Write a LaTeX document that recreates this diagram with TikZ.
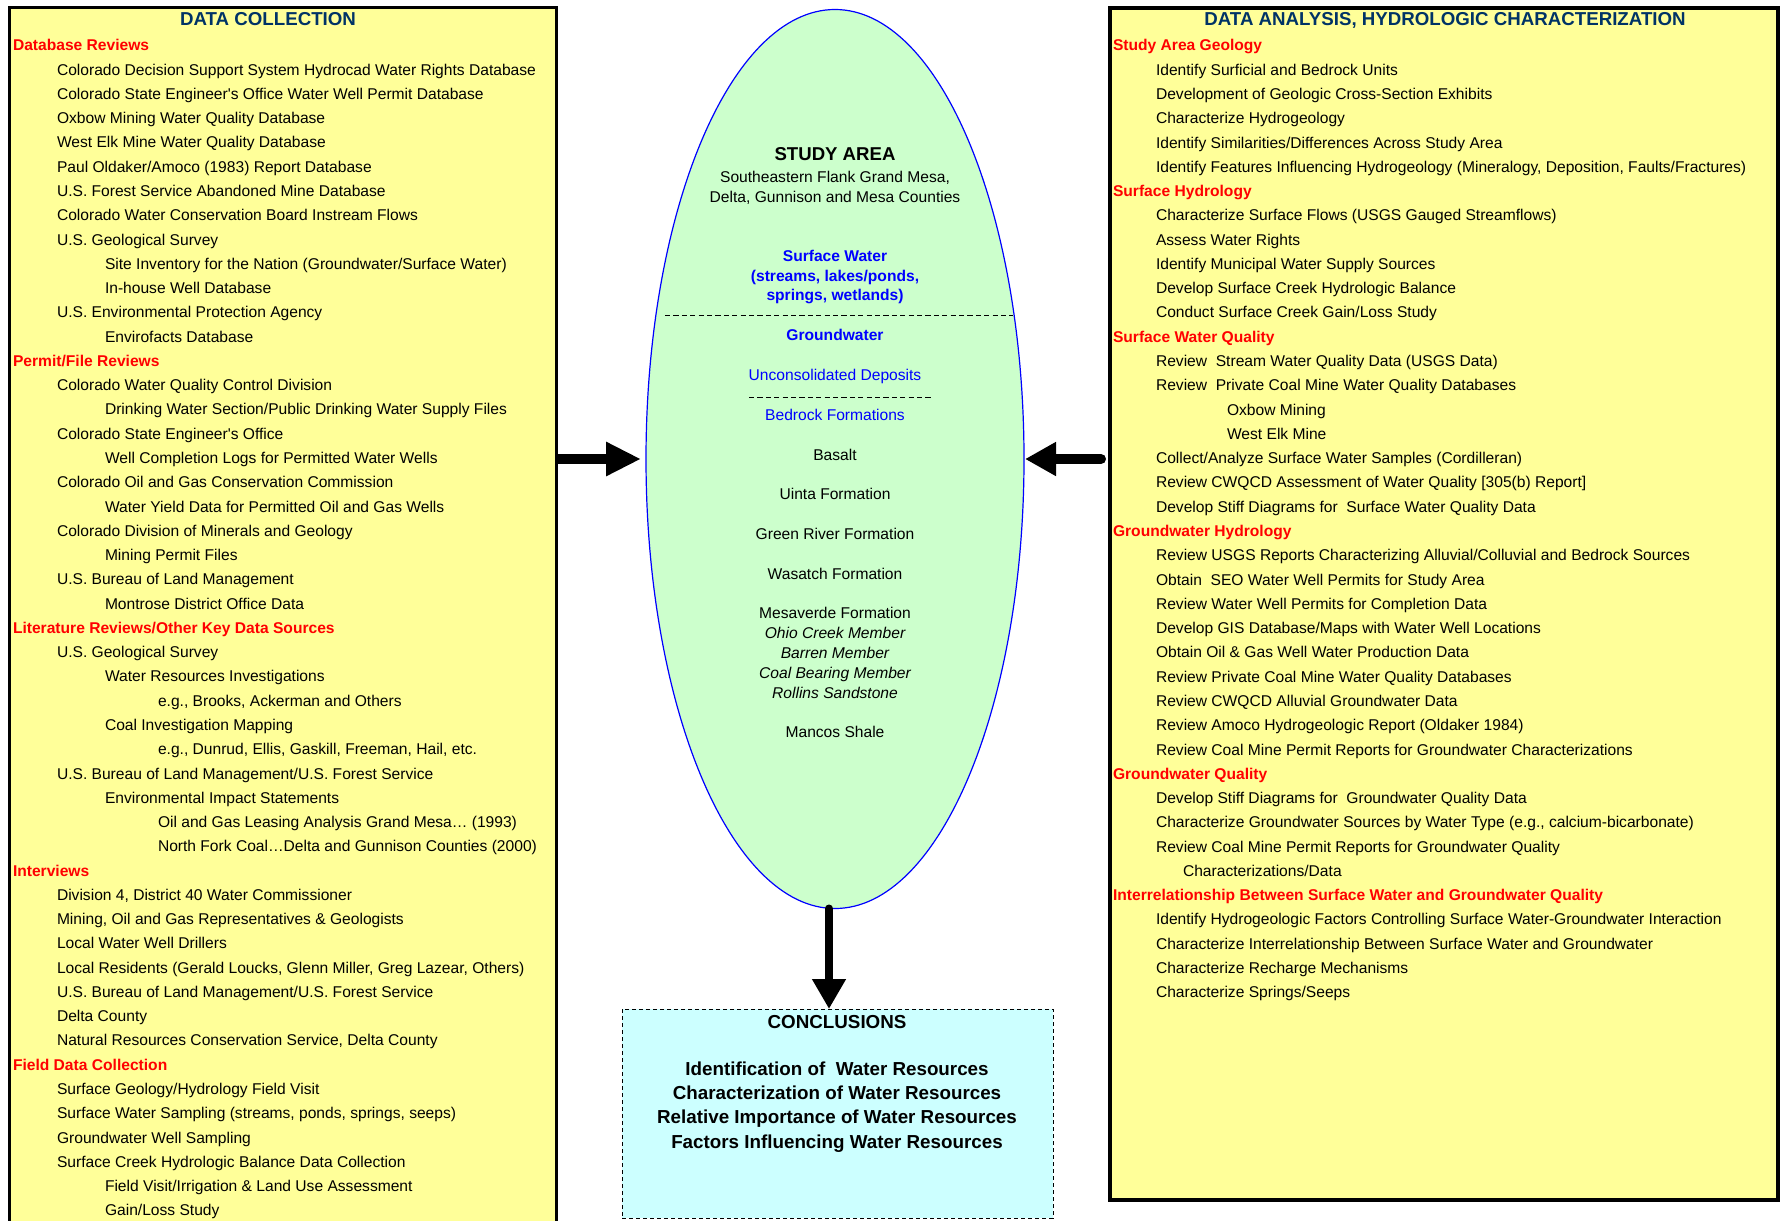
\documentclass[tikz,border=0pt]{standalone}
\usepackage{fontspec}
\setmainfont{Liberation Sans}
\usetikzlibrary{shapes.geometric,arrows.meta}
\definecolor{boxyellow}{HTML}{FFFF99}
\definecolor{studygreen}{HTML}{CCFFCC}
\definecolor{conccyan}{HTML}{CCFFFF}
\definecolor{titlenavy}{RGB}{0,51,102}
\definecolor{headred}{RGB}{255,0,0}
\definecolor{textblue}{RGB}{0,0,255}
\newcommand\hdfmt{\color{headred}\bfseries}
\newcommand\bluefmt{\color{textblue}}
\newcommand\bigfmt{\bfseries\fontsize{9.3pt}{11pt}\selectfont}
\newcommand\apos{\textquotesingle}
\frenchspacing
\begin{document}
\begin{tikzpicture}[x=0.5pt,y=-0.5pt,
  bodytxt/.style={anchor=base west, inner sep=0pt, outer sep=0pt, font=\fontsize{7.8pt}{9pt}\selectfont},
  ctxt/.style={anchor=base, inner sep=0pt, outer sep=0pt, font=\fontsize{7.8pt}{9pt}\selectfont},
  titletxt/.style={anchor=base, inner sep=0pt, outer sep=0pt, text=titlenavy, font=\bfseries\fontsize{9.35pt}{11pt}\selectfont},
  listbox/.style={rectangle, draw=black, fill=boxyellow, anchor=north west, inner sep=0pt, outer sep=0pt},
  innerdash/.style={draw=black, line width=0.5pt, dash pattern=on 2.6pt off 1.6pt},
  fatarrow/.style={draw=black, line width=5pt}
]
\useasboundingbox (0,0) rectangle (1780,1220);
\clip (0,0) rectangle (1780,1220);
\fill[white] (0,0) rectangle (1780,1220);

% boxes
\node[listbox, line width=1.5pt, minimum width=273.5pt, minimum height=615pt] (LB) at (9,8) {};
\node[listbox, line width=2pt, minimum width=334pt, minimum height=596pt] (RB) at (1110,8) {};
\node[ellipse, draw=textblue, line width=0.6pt, fill=studygreen, minimum width=189pt, minimum height=449.5pt, inner sep=0pt, outer sep=0pt] (E) at (835,459) {};
\node[rectangle, draw=black, line width=0.5pt, dash pattern=on 2pt off 1.5pt, fill=conccyan, anchor=north west, minimum width=215.5pt, minimum height=104.5pt, inner sep=0pt, outer sep=0pt] (CB) at (622,1009) {};

% titles
\node[titletxt] (LT) at (268,26) {DATA COLLECTION};
\node[titletxt] (RT) at (1445,26) {DATA ANALYSIS, HYDROLOGIC CHARACTERIZATION};

% left list
\foreach \x/\t [count=\i from 0] in {
 13/{\hdfmt Database Reviews},
 57/{Colorado Decision Support System Hydrocad Water Rights Database},
 57/{Colorado State Engineer\apos s Office Water Well Permit Database},
 57/{Oxbow Mining Water Quality Database},
 57/{West Elk Mine Water Quality Database},
 57/{Paul Oldaker/Amoco (1983) Report Database},
 57/{U.S. Forest Service Abandoned Mine Database},
 57/{Colorado Water Conservation Board Instream Flows},
 57/{U.S. Geological Survey},
 105/{Site Inventory for the Nation (Groundwater/Surface Water)},
 105/{In-house Well Database},
 57/{U.S. Environmental Protection Agency},
 105/{Envirofacts Database},
 13/{\hdfmt Permit/File Reviews},
 57/{Colorado Water Quality Control Division},
 105/{Drinking Water Section/Public Drinking Water Supply Files},
 57/{Colorado State Engineer\apos s Office},
 105/{Well Completion Logs for Permitted Water Wells},
 57/{Colorado Oil and Gas Conservation Commission},
 105/{Water Yield Data for Permitted Oil and Gas Wells},
 57/{Colorado Division of Minerals and Geology},
 105/{Mining Permit Files},
 57/{U.S. Bureau of Land Management},
 105/{Montrose District Office Data},
 13/{\hdfmt Literature Reviews/Other Key Data Sources},
 57/{U.S. Geological Survey},
 105/{Water Resources Investigations},
 158/{e.g., Brooks, Ackerman and Others},
 105/{Coal Investigation Mapping},
 158/{e.g., Dunrud, Ellis, Gaskill, Freeman, Hail, etc.},
 57/{U.S. Bureau of Land Management/U.S. Forest Service},
 105/{Environmental Impact Statements},
 158/{Oil and Gas Leasing Analysis Grand Mesa… (1993)},
 158/{North Fork Coal…Delta and Gunnison Counties (2000)},
 13/{\hdfmt Interviews},
 57/{Division 4, District 40 Water Commissioner},
 57/{Mining, Oil and Gas Representatives \& Geologists},
 57/{Local Water Well Drillers},
 57/{Local Residents (Gerald Loucks, Glenn Miller, Greg Lazear, Others)},
 57/{U.S. Bureau of Land Management/U.S. Forest Service},
 57/{Delta County},
 57/{Natural Resources Conservation Service, Delta County},
 13/{\hdfmt Field Data Collection},
 57/{Surface Geology/Hydrology Field Visit},
 57/{Surface Water Sampling (streams, ponds, springs, seeps)},
 57/{Groundwater Well Sampling},
 57/{Surface Creek Hydrologic Balance Data Collection},
 105/{Field Visit/Irrigation \& Land Use Assessment},
 105/{Gain/Loss Study}
}{
 \node[bodytxt] (L\i) at (\x,50.9+\i*24.27) {\t};
}

% right list
\foreach \x/\t [count=\i from 0] in {
 1113/{\hdfmt Study Area Geology},
 1156/{Identify Surficial and Bedrock Units},
 1156/{Development of Geologic Cross-Section Exhibits},
 1156/{Characterize Hydrogeology},
 1156/{Identify Similarities/Differences Across Study Area},
 1156/{Identify Features Influencing Hydrogeology (Mineralogy, Deposition, Faults/Fractures)},
 1113/{\hdfmt Surface Hydrology},
 1156/{Characterize Surface Flows (USGS Gauged Streamflows)},
 1156/{Assess Water Rights},
 1156/{Identify Municipal Water Supply Sources},
 1156/{Develop Surface Creek Hydrologic Balance},
 1156/{Conduct Surface Creek Gain/Loss Study},
 1113/{\hdfmt Surface Water Quality},
 1156/{Review\ \ Stream Water Quality Data (USGS Data)},
 1156/{Review\ \ Private Coal Mine Water Quality Databases},
 1227/{Oxbow Mining},
 1227/{West Elk Mine},
 1156/{Collect/Analyze Surface Water Samples (Cordilleran)},
 1156/{Review CWQCD Assessment of Water Quality [305(b) Report]},
 1156/{Develop Stiff Diagrams for\ \ Surface Water Quality Data},
 1113/{\hdfmt Groundwater Hydrology},
 1156/{Review USGS Reports Characterizing Alluvial/Colluvial and Bedrock Sources},
 1156/{Obtain\ \ SEO Water Well Permits for Study Area},
 1156/{Review Water Well Permits for Completion Data},
 1156/{Develop GIS Database/Maps with Water Well Locations},
 1156/{Obtain Oil \& Gas Well Water Production Data},
 1156/{Review Private Coal Mine Water Quality Databases},
 1156/{Review CWQCD Alluvial Groundwater Data},
 1156/{Review Amoco Hydrogeologic Report (Oldaker 1984)},
 1156/{Review Coal Mine Permit Reports for Groundwater Characterizations},
 1113/{\hdfmt Groundwater Quality},
 1156/{Develop Stiff Diagrams for\ \ Groundwater Quality Data},
 1156/{Characterize Groundwater Sources by Water Type (e.g., calcium-bicarbonate)},
 1156/{Review Coal Mine Permit Reports for Groundwater Quality},
 1183/{Characterizations/Data},
 1113/{\hdfmt Interrelationship Between Surface Water and Groundwater Quality},
 1156/{Identify Hydrogeologic Factors Controlling Surface Water-Groundwater Interaction},
 1156/{Characterize Interrelationship Between Surface Water and Groundwater},
 1156/{Characterize Recharge Mechanisms},
 1156/{Characterize Springs/Seeps}
}{
 \node[bodytxt] (R\i) at (\x,50.9+\i*24.28) {\t};
}

% study area texts
\foreach \y/\t [count=\i] in {
 160/{\bigfmt STUDY AREA},
 182.5/{Southeastern Flank Grand Mesa,},
 202/{Delta, Gunnison and Mesa Counties},
 261/{\bluefmt\bfseries Surface Water},
 281.5/{\bluefmt\bfseries (streams, lakes/ponds,},
 300.5/{\bluefmt\bfseries springs, wetlands)},
 340.5/{\bluefmt\bfseries Groundwater},
 380/{\bluefmt Unconsolidated Deposits},
 420/{\bluefmt Bedrock Formations},
 460/{Basalt},
 499.5/{Uinta Formation},
 539.5/{Green River Formation},
 579.5/{Wasatch Formation},
 618.2/{Mesaverde Formation},
 638.2/{\itshape Ohio Creek Member},
 658.2/{\itshape Barren Member},
 678.2/{\itshape Coal Bearing Member},
 698.2/{\itshape Rollins Sandstone},
 737.2/{Mancos Shale}
}{
 \node[ctxt] (S\i) at (835,\y) {\t};
}
\draw[innerdash] (665,315.5) -- (1013,315.5);
\draw[innerdash] (749,397) -- (933,397);

% conclusions texts
\node[ctxt, font=\bfseries\fontsize{9.4pt}{11pt}\selectfont] (C0) at (837,1028.5) {CONCLUSIONS};
\foreach \y/\t [count=\i] in {
 1075.8/{Identification of\ \ Water Resources},
 1099.8/{Characterization of Water Resources},
 1123.8/{Relative Importance of Water Resources},
 1148.5/{Factors Influencing Water Resources}
}{
 \node[ctxt, font=\bfseries\fontsize{9.4pt}{11pt}\selectfont] (C\i) at (837,\y) {\t};
}

% arrows
\draw[fatarrow, -{Triangle[length=17.5pt,width=16pt]}, shorten >=2.5pt] (LB.east |- E.west) -- (E.west);
\draw[fatarrow, line cap=round, -{Triangle[length=15.5pt,width=16pt]}, shorten >=0.5pt, shorten <=4.5pt] (RB.west |- E.east) -- (E.east);
\draw[fatarrow, line width=4pt, line cap=round, -{Triangle[length=15pt,width=16pt]}] ([xshift=-3pt]E.south) -- ([xshift=-3pt]E.south |- CB.north);
\end{tikzpicture}
\end{document}
